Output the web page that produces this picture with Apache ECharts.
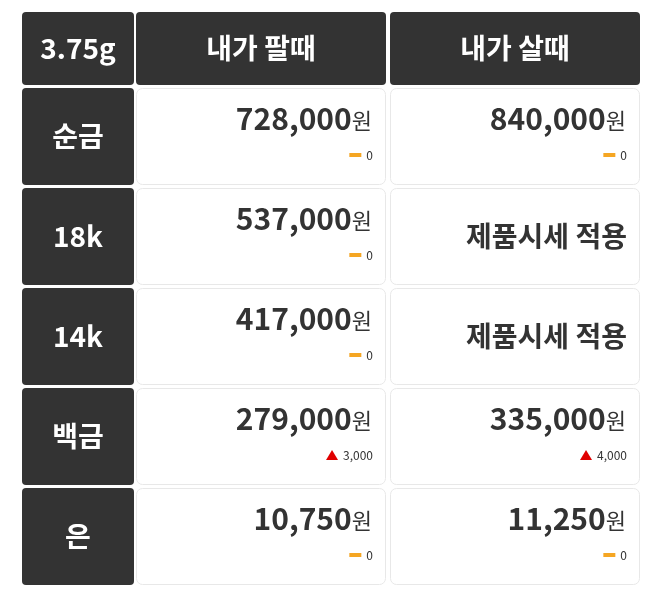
<!DOCTYPE html>
<html><head><meta charset="utf-8">
<script src="https://cdn.jsdelivr.net/npm/echarts@6/dist/echarts.min.js"></script>
<style>html,body{margin:0;padding:0;background:#fff}#c{width:658px;height:600px}</style>
</head><body><div id="c"></div>
<script>
const cornerLabel = '3.75g';
const columnHeaders = ['내가 팔때', '내가 살때'];
const rowLabels = ['순금', '18k', '14k', '백금', '은'];
const sellPrices = [728000, 537000, 417000, 279000, 10750];
const buyPrices = [840000, null, null, 335000, 11250];
const sellChanges = [0, 0, 0, 3000, 0];
const buyChanges = [0, null, null, 4000, 0];
const noPriceNote = '제품시세 적용';

const FONT = '"Noto Sans CJK KR", "Noto Sans", sans-serif';
const DARK = '#333333';
const mctx = document.createElement('canvas').getContext('2d');
function tw(t, size, weight) { mctx.font = (weight || 'normal') + ' ' + size + 'px ' + FONT; return mctx.measureText(t).width; }
const fmt = v => v.toLocaleString('en-US');
function txt(x, y, text, size, weight, fill, align) {
  return { type: 'text', style: { x, y, text, fill, fontSize: size, fontWeight: weight, fontFamily: FONT, align, verticalAlign: 'middle' } };
}

function darkCell(params, api) {
  const c = api.coord([api.value(0), api.value(1)]);
  const s = api.size([1, 1]);
  const w = s[0] - 4, h = s[1] - 3;
  return {
    type: 'group', children: [
      { type: 'rect', shape: { x: c[0] - w / 2, y: c[1] - h / 2, width: w, height: h, r: 4 }, style: { fill: DARK } },
      txt(c[0], c[1], api.value(2), 28, 'bold', '#fff', 'center')
    ]
  };
}

function valueCell(params, api) {
  const c = api.coord([api.value(0), api.value(1)]);
  const s = api.size([1, 1]);
  const w = s[0] - 4, h = s[1] - 3;
  const x0 = c[0] - w / 2, y0 = c[1] - h / 2, right = x0 + w - 14;
  const col = api.value(0), row = api.value(1);
  const price = col === 0 ? sellPrices[row] : buyPrices[row];
  const chg = col === 0 ? sellChanges[row] : buyChanges[row];
  const children = [
    { type: 'rect', shape: { x: x0 + 0.5, y: y0 + 0.5, width: w - 1, height: h - 1, r: 6 }, style: { fill: '#fff', stroke: '#e8e8e8', lineWidth: 1 } }
  ];
  if (price == null) {
    children.push(txt(right + 1, c[1], noPriceNote, 28, 'bold', DARK, 'right'));
  } else {
    const wonW = tw('원', 22);
    children.push(txt(right, y0 + 33, '원', 22, 'normal', DARK, 'right'));
    children.push(txt(right - wonW, y0 + 31, fmt(price), 30, 'bold', DARK, 'right'));
    const ct = fmt(chg);
    const cy = y0 + 67;
    children.push(txt(right + 1, cy, ct, 12, 'normal', DARK, 'right'));
    const ix = right - tw(ct, 12) - 4;
    if (chg === 0) {
      children.push({ type: 'rect', shape: { x: ix - 12, y: cy - 2, width: 12, height: 4 }, style: { fill: '#f5a623' } });
    } else {
      children.push({ type: 'polygon', shape: { points: [[ix - 12, cy + 5], [ix, cy + 5], [ix - 6, cy - 5]] }, style: { fill: '#e00000' } });
    }
  }
  return { type: 'group', children };
}

const headerLabelData = [[0, 0, cornerLabel]];
const headerColData = columnHeaders.map((h, i) => [i, 0, h]);
const rowLabelData = rowLabels.map((r, i) => [0, i, r]);
const valueData = [];
rowLabels.forEach((r, i) => { valueData.push([0, i]); valueData.push([1, i]); });

const grids = [
  { left: 20, width: 116, top: 10.5, height: 76 },
  { left: 134, width: 508, top: 10.5, height: 76 },
  { left: 20, width: 116, top: 86.5, height: 500 },
  { left: 134, width: 508, top: 86.5, height: 500 }
];
const xCats = [['a'], ['s', 'b'], ['a'], ['s', 'b']];
const yCats = [['h'], ['h'], rowLabels, rowLabels];
const chart = echarts.init(document.getElementById('c'));
chart.setOption({
  animation: false,
  grid: grids,
  xAxis: grids.map((g, i) => ({ type: 'category', gridIndex: i, data: xCats[i], show: false })),
  yAxis: grids.map((g, i) => ({ type: 'category', gridIndex: i, data: yCats[i], inverse: true, show: false })),
  series: [
    { type: 'custom', xAxisIndex: 0, yAxisIndex: 0, data: headerLabelData, renderItem: darkCell },
    { type: 'custom', xAxisIndex: 1, yAxisIndex: 1, data: headerColData, renderItem: darkCell },
    { type: 'custom', xAxisIndex: 2, yAxisIndex: 2, data: rowLabelData, renderItem: darkCell },
    { type: 'custom', xAxisIndex: 3, yAxisIndex: 3, data: valueData, renderItem: valueCell }
  ]
});
</script></body></html>
